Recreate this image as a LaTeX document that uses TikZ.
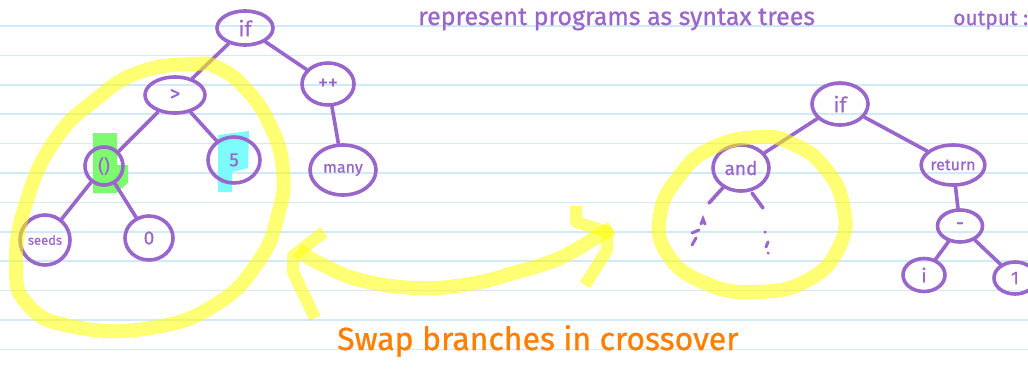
\documentclass[tikz,border=0pt]{standalone}
\usepackage{fontspec}
\setmainfont{Fira Sans}
\newfontfamily\hand[FakeBold=0.8]{Fira Sans}
\usetikzlibrary{shapes.geometric}
\definecolor{ink}{RGB}{153,102,204}
\definecolor{rulecol}{RGB}{210,233,248}
\definecolor{marker}{RGB}{255,255,0}
\definecolor{pen}{RGB}{255,128,0}
\definecolor{hlgreen}{RGB}{125,250,110}
\definecolor{hlcyan}{RGB}{125,250,250}
\newcommand{\fs}[1]{\hand\fontsize{#1}{#1}\selectfont}
\begin{document}
\begin{tikzpicture}[x=1pt,y=-1pt,
  tnode/.style={ellipse, draw=ink, line width=3.6pt, inner sep=0pt, text=ink, font=\fs{19}},
  edge/.style={draw=ink, line width=3.6pt, line cap=round},
  dots/.style={draw=ink, line width=3pt, line cap=round},
  hl/.style={draw=marker, opacity=0.55, line width=14pt, line join=round},
]
\useasboundingbox (0,0) rectangle (1028,372);
\fill[white] (0,0) rectangle (1028,372);

% ruled paper
\foreach \k in {0,...,11}
  \draw[rulecol, line width=1.5pt] (0,{26+29.4*\k}) -- (1028,{26+29.4*\k});

% colour marks behind two of the nodes
\fill[hlgreen] (93,133) -- (117,133) -- (117,165) -- (128,165) -- (128,183) -- (116,193) -- (93,193) -- cycle;
\fill[hlcyan] (218,135) -- (249,131) -- (248,168) -- (232,172) -- (232,192) -- (218,192) -- cycle;

% left syntax tree
\node[tnode, minimum width=56pt, minimum height=34pt, font=\fs{21}] (ifA) at (245,28) {if};
\node[tnode, minimum width=60pt, minimum height=36pt, font=\fs{21}] (gt) at (175,95) {>};
\node[tnode, minimum width=52pt, minimum height=42pt, font=\fs{20}] (inc) at (328,84) {++};
\node[tnode, minimum width=38pt, minimum height=38pt, font=\fs{18}] (call) at (104,166) {()};
\node[tnode, minimum width=52pt, minimum height=46pt, font=\fs{19}] (five) at (234,160) {5};
\node[tnode, minimum width=66pt, minimum height=50pt, font=\fs{16}] (many) at (343,170) {many};
\node[tnode, minimum width=50pt, minimum height=50pt, font=\fs{13}] (seeds) at (45,240) {seeds};
\node[tnode, minimum width=48pt, minimum height=44pt, font=\fs{19}] (zero) at (149,238) {0};

\draw[edge] (ifA) -- (gt);
\draw[edge] (ifA) -- (inc);
\draw[edge] (gt) -- (call);
\draw[edge] (gt) -- (five);
\draw[edge] (inc) -- (many);
\draw[edge] (call) -- (seeds);
\draw[edge] (call) -- (zero);

% right syntax tree
\node[tnode, minimum width=56pt, minimum height=42pt, font=\fs{21}] (ifB) at (840,104) {if};
\node[tnode, minimum width=56pt, minimum height=46pt, font=\fs{19}] (andn) at (741,168) {and};
\node[tnode, minimum width=60pt, minimum height=40pt, font=\fs{16}] (ret) at (953,165) {return};
\node[tnode, minimum width=45pt, minimum height=32pt, font=\fs{20}] (minus) at (960,226) {-};
\node[tnode, minimum width=42pt, minimum height=33pt, font=\fs{19}] (iv) at (924,275) {i};
\node[tnode, minimum width=42pt, minimum height=32pt, font=\fs{18}] (one) at (1015,278) {1};

\draw[edge] (ifB) -- (andn);
\draw[edge] (ifB) -- (ret);
\draw[edge] (ret) -- (minus);
\draw[edge] (minus) -- (iv);
\draw[edge] (minus) -- (one);

% unfinished branches under "and"
\coordinate (andL) at (709,203);
\coordinate (andR) at (763,208);
\draw[edge] (andn) -- (andL);
\draw[edge] (752,193) -- (andR);
\draw[dots] (701,224) -- (703,219) -- (705,224);
\draw[dots] (692,233) -- (699,230);
\draw[dots] (696,238) -- (692,245);
\draw[dots] (765,232) -- (765.3,232.3);
\draw[dots] (768,242) -- (766,247);
\draw[dots] (768,253) -- (768.2,253.3);

% handwritten notes
\node[anchor=base west, inner sep=0pt, text=ink, font=\fs{25}] (title) at (418,25) {represent programs as syntax trees};
\node[anchor=base west, inner sep=0pt, text=ink, font=\fs{21}] (out) at (953,25) {output :};
\node[anchor=base west, inner sep=0pt, text=pen, font=\fs{32}] (caption) at (337,350) {Swap branches in crossover};

% highlighter strokes
\draw[hl] plot[smooth cycle, tension=0.8] coordinates {(195,64) (140,72) (95,100) (55,140) (27,200) (16,262) (28,305) (75,327) (150,328) (215,305) (258,262) (278,215) (283,170) (270,125) (245,88) (218,68)};
\draw[hl] plot[smooth cycle, tension=0.8] coordinates {(760,137) (712,148) (680,175) (660,215) (668,255) (705,283) (755,292) (808,280) (840,245) (843,205) (825,168) (795,145)};
\draw[hl, line cap=butt] plot[smooth, tension=0.7] coordinates {(298,250) (317,262) (360,280) (417,288) (470,284) (517,272) (560,258) (600,235) (612,228)};
\draw[hl, line width=12pt] (324,232) -- (293,256) -- (293,272) -- (315,318);
\draw[hl, line width=12pt] (576,206) -- (576,222) -- (607,232) -- (607,250) -- (585,285);
\end{tikzpicture}
\end{document}
